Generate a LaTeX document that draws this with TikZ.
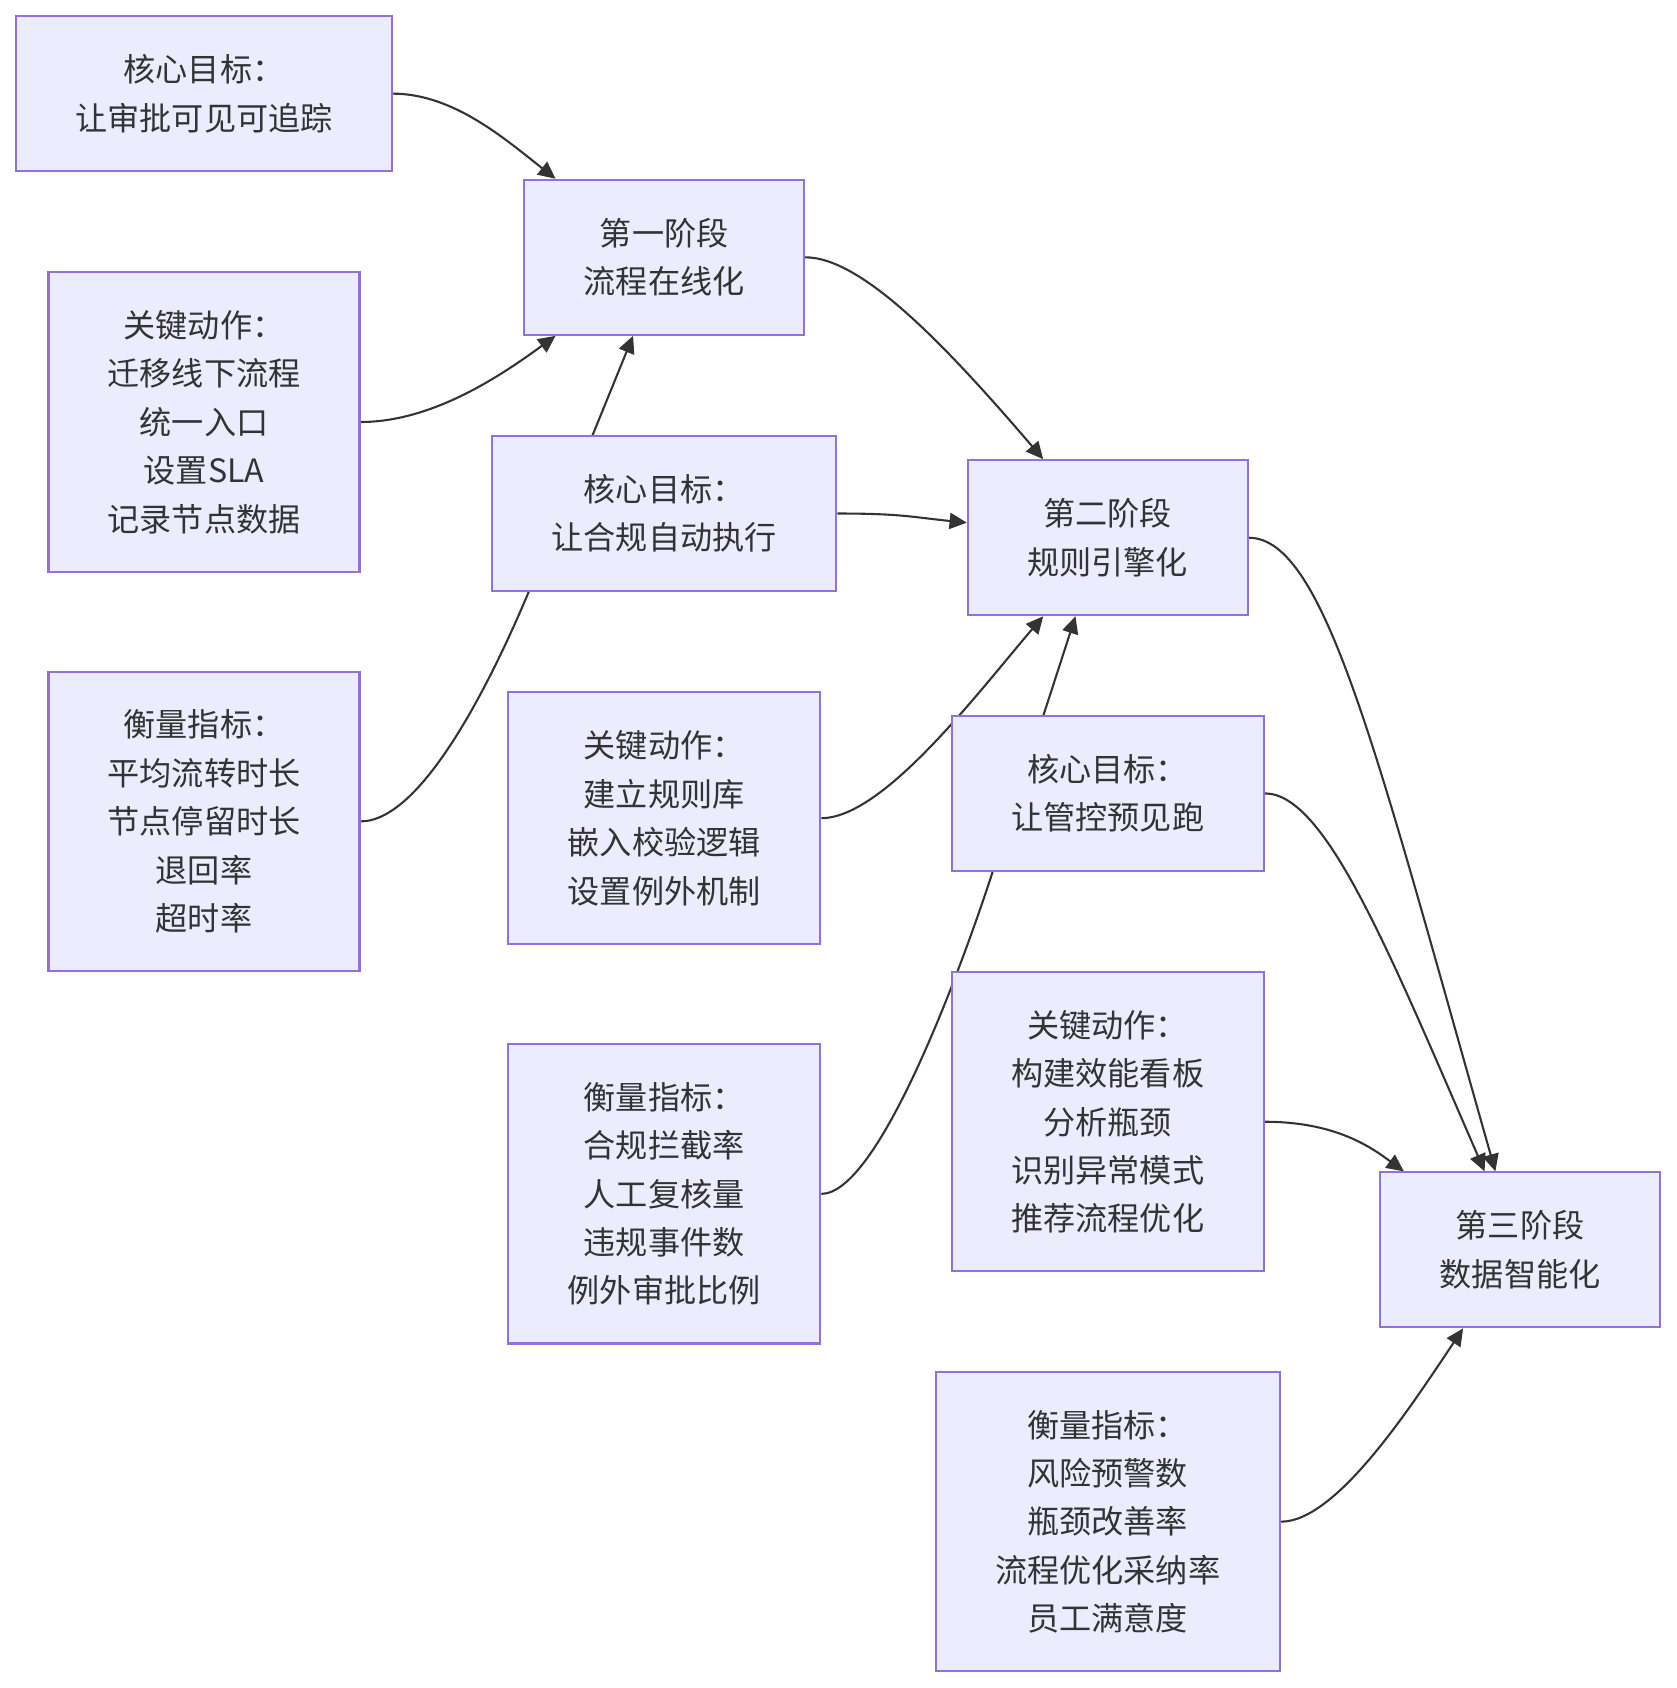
\documentclass[tikz,border=0pt]{standalone}
\usepackage{fontspec}
\setmainfont{Noto Sans CJK SC}
\usepackage{tikz}
\usetikzlibrary{arrows.meta, calc, backgrounds}
\definecolor{mmfill}{HTML}{ECECFF}
\definecolor{mmline}{HTML}{9370DB}
\definecolor{mmtext}{HTML}{333333}

\begin{document}
\begin{tikzpicture}[x=0.02cm, y=-0.02cm,
    blk/.style={draw=mmline, fill=mmfill, line width=1.1pt, minimum width=#1,
                align=center, text=mmtext, inner sep=0pt,
                font=\fontsize{17}{25.6}\selectfont},
    two/.style={minimum height=2.88cm},
    four/.style={minimum height=4.68cm},
    five/.style={minimum height=5.56cm},
    lnk/.style={draw=mmtext, line width=1.1pt,
                -{Triangle[length=0.32cm, width=0.3cm]}},
]
    \useasboundingbox (0,0) rectangle (1557,1568);

    % Phase 1
    \node[blk=6.98cm, two] (goal1) at (189.5, 87) {核心目标：\\让审批可见可追踪};
    \node[blk=5.2cm, two] (stage1) at (617, 239) {第一阶段\\流程在线化};
    \node[blk=5.78cm, five] (act1) at (189.5, 392) {关键动作：\\迁移线下流程\\统一入口\\设置SLA\\记录节点数据};
    \node[blk=6.4cm, two] (goal2) at (617, 477) {核心目标：\\让合规自动执行};
    \node[blk=5.78cm, five] (met1) at (189.5, 763) {衡量指标：\\平均流转时长\\节点停留时长\\退回率\\超时率};

    % Phase 2
    \node[blk=5.2cm, two] (stage2) at (1029, 499.5) {第二阶段\\规则引擎化};
    \node[blk=5.8cm, four] (act2) at (617, 760) {关键动作：\\建立规则库\\嵌入校验逻辑\\设置例外机制};
    \node[blk=5.8cm, two] (goal3) at (1029, 737) {核心目标：\\让管控预见跑};
    \node[blk=5.8cm, five] (met2) at (617, 1109) {衡量指标：\\合规拦截率\\人工复核量\\违规事件数\\例外审批比例};

    % Phase 3
    \node[blk=5.8cm, five] (act3) at (1029, 1042) {关键动作：\\构建效能看板\\分析瓶颈\\识别异常模式\\推荐流程优化};
    \node[blk=5.2cm, two] (stage3) at (1412, 1161) {第三阶段\\数据智能化};
    \node[blk=6.4cm, five] (met3) at (1029, 1413.5) {衡量指标：\\风险预警数\\瓶颈改善率\\流程优化采纳率\\员工满意度};

    % Links (behind the boxes)
    \begin{scope}[on background layer]
        \draw[lnk] (goal1.east) .. controls +(56,0) and +(-47,-37) .. ($(stage1.north west)+(30,0)$);
        \draw[lnk] (act1.east) .. controls +(66,0) and +(-52,38) .. ($(stage1.south west)+(30,0)$);
        \draw[lnk] (met1.east) .. controls +(56,0) and +(-37,88) .. ($(goal2.south west)+(35,0)$)
            -- ($(stage1.south west)+(102,0)$);

        \draw[lnk] (stage1.east) .. controls +(53,0) and +(-90,-105) .. ($(stage2.north west)+(71,0)$);
        \draw[lnk] (goal2.east) .. controls +(60,0) and +(-50,-5) .. ($(stage2.west)+(0,-14)$);
        \draw[lnk] (act2.east) .. controls +(58,0) and +(-60,70) .. ($(stage2.south west)+(71,0)$);
        \draw[lnk] (met2.east) .. controls +(53,0) and +(-30,92) .. ($(goal3.south west)+(39,0)$)
            -- ($(stage2.south west)+(101,0)$);

        \draw[lnk] (stage2.east) .. controls +(71,0) and +(-110,-387) .. ($(stage3.north west)+(108,0)$);
        \draw[lnk] (goal3.east) .. controls +(56,0) and +(-90,-207) .. ($(stage3.north west)+(98,0)$);
        \draw[lnk] (act3.east) .. controls +(66,0) and +(-30,-22) .. ($(stage3.north west)+(23,0)$);
        \draw[lnk] (met3.east) .. controls +(51,0) and +(-50,75) .. ($(stage3.south west)+(78,0)$);
    \end{scope}
\end{tikzpicture}
\end{document}
